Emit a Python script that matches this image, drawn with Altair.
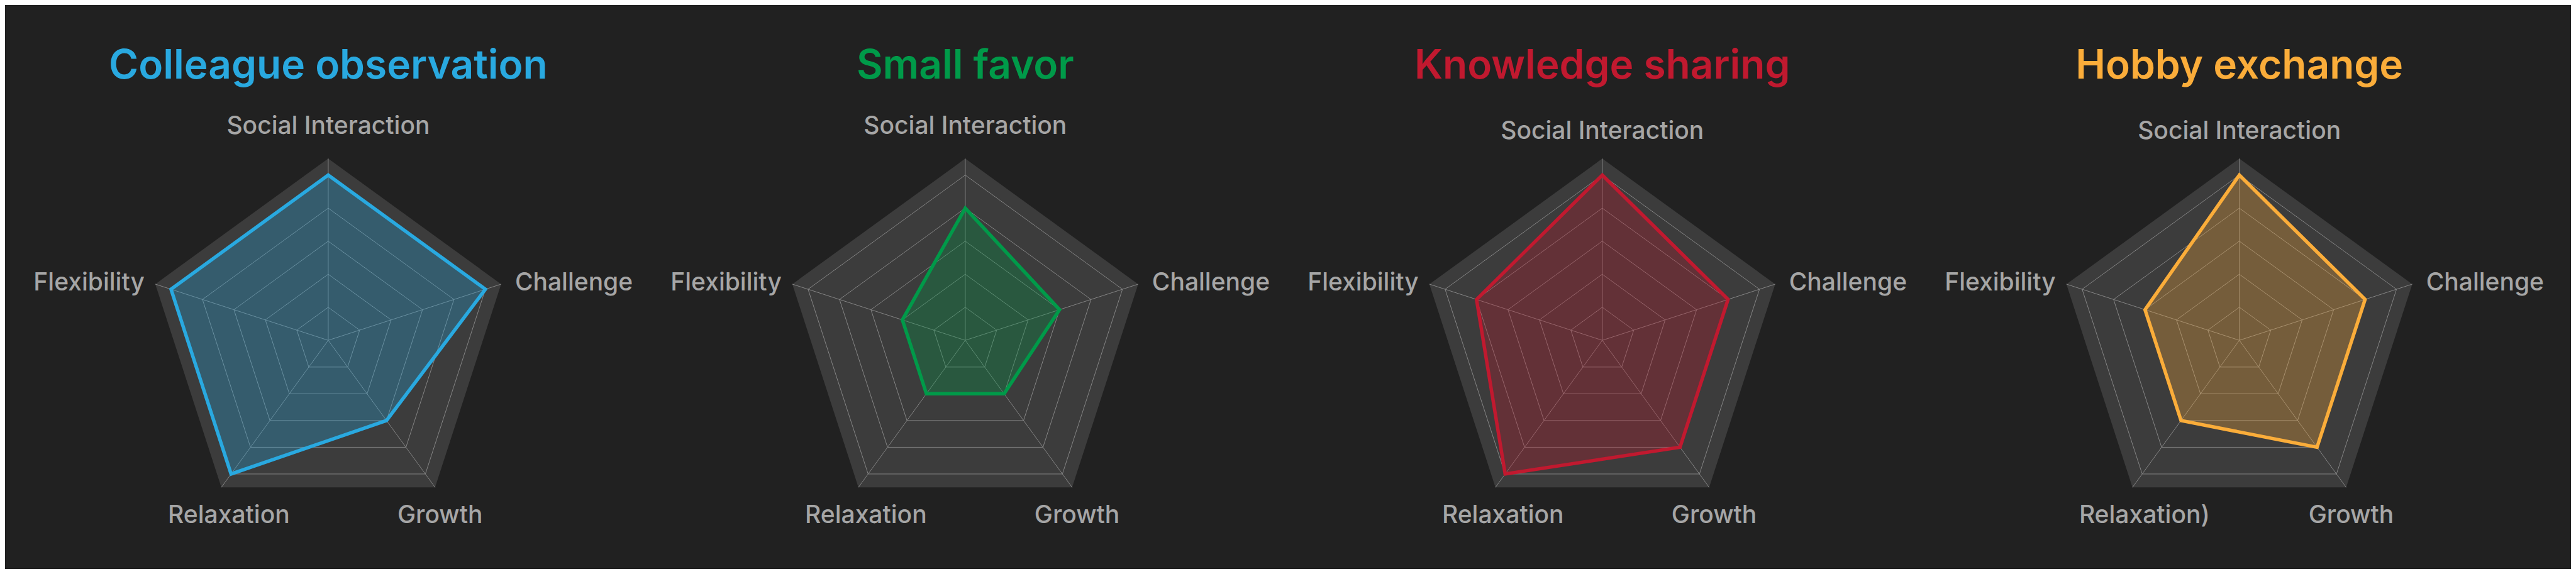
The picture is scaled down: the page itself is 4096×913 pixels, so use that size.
import math
import altair as alt
import pandas as pd

# ---------------- data ----------------
titles = ["Colleague observation", "Small favor", "Knowledge sharing", "Hobby exchange"]
colors = ["#29a9e0", "#009a49", "#c1192f", "#fbad3a"]
indicators = [
    ["Social Interaction", "Challenge", "Growth", "Relaxation", "Flexibility"],
    ["Social Interaction", "Challenge", "Growth", "Relaxation", "Flexibility"],
    ["Social Interaction", "Challenge", "Growth", "Relaxation", "Flexibility"],
    ["Social Interaction", "Challenge", "Growth", "Relaxation)", "Flexibility"],
]
colleague_observation = [5, 5, 3, 5, 5]
small_favor = [4, 3, 2, 2, 2]
knowledge_sharing = [5, 4, 4, 5, 4]
hobby_exchange = [5, 4, 4, 3, 3]
series = [colleague_observation, small_favor, knowledge_sharing, hobby_exchange]
ring_levels = [1, 2, 3, 4, 5]
axis_max = 5.5

# ---------------- layout (pixels) ----------------
W, H = 4080, 897
S = 0.532
U = 98.8 * S                 # pixels per rating unit
CX = [981 * S - 8 + i * 1904 * S for i in range(4)]
CY = 1017.5 * S - 8
BG = "#212121"
PANEL = "#3c3c3c"
GRID = "#858585"
LABEL = "#a6a6a6"
FONT = "Inter"

def ux(px):
    return px / U

def uy(py):
    return (H - py) / U

def vert(i, k, r):
    a = 2 * math.pi * k / 5
    return ux(CX[i]) + r * math.sin(a), uy(CY) + r * math.cos(a)

xs = alt.Scale(domain=[0, W / U], nice=False, zero=False)
ys = alt.Scale(domain=[0, H / U], nice=False, zero=False)

bg_rows, ring_rows, spoke_rows, data_rows = [], [], [], []
for i in range(4):
    for k in range(5):
        x, y = vert(i, k, axis_max)
        bg_rows.append({"chart": titles[i], "k": k, "x": x, "y": y})
        spoke_rows.append({"chart": titles[i], "x": ux(CX[i]), "y": uy(CY), "x2": x, "y2": y})
        for lv in ring_levels:
            rx, ry = vert(i, k, lv)
            ring_rows.append({"chart": titles[i], "level": lv, "k": k, "x": rx, "y": ry})
        dx, dy = vert(i, k, series[i][k])
        data_rows.append({"chart": titles[i], "k": k, "x": dx, "y": dy, "v": series[i][k]})

bg_df = pd.DataFrame(bg_rows)
ring_df = pd.DataFrame(ring_rows)
spoke_df = pd.DataFrame(spoke_rows)
data_df = pd.DataFrame(data_rows)

# label positions (offsets from centre, pixels)
lab_rows = []
for i in range(4):
    si_dy = -328 if i < 2 else -320.5
    offs = [
        (0, si_dy, "center"),
        (297, -79, "left"),
        (-254.8, 291, "left"),
        (110, 291, "left"),
        (-292, -79, "right"),
    ]
    order_idx = [0, 1, 3, 2, 4]  # SI, Challenge, Relaxation, Growth, Flexibility
    for (ox, oy, al), k in zip(offs, order_idx):
        lab_rows.append({"chart": titles[i], "text": indicators[i][k],
                         "x": ux(CX[i] + ox), "y": uy(CY + oy), "align": al})
lab_df = pd.DataFrame(lab_rows)

title_df = pd.DataFrame({"chart": titles,
                         "x": [ux(c) for c in CX],
                         "y": [uy(CY - 416.4)] * 4})

cscale = alt.Scale(domain=titles, range=colors)

X = lambda f="x": alt.X(f"{f}:Q", scale=xs, axis=None)
Y = lambda f="y": alt.Y(f"{f}:Q", scale=ys, axis=None)

layers = []

layers.append(alt.Chart(bg_df).mark_line(
    interpolate="linear-closed", fill=PANEL, strokeOpacity=0, fillOpacity=1
).encode(x=X(), y=Y(), order=alt.Order("k:Q"), detail="chart:N"))

layers.append(alt.Chart(ring_df).mark_line(
    interpolate="linear-closed", color=GRID, strokeWidth=1
).encode(x=X(), y=Y(), order=alt.Order("k:Q"), detail=["chart:N", "level:Q"]))

layers.append(alt.Chart(spoke_df).mark_rule(color=GRID, strokeWidth=1).encode(
    x=X(), y=Y(), x2="x2:Q", y2="y2:Q"))

for i in range(4):
    sub = data_df[data_df["chart"] == titles[i]]
    layers.append(alt.Chart(sub).mark_line(
        interpolate="linear-closed", fill=colors[i], fillOpacity=0.3, strokeOpacity=0
    ).encode(x=X(), y=Y(), order=alt.Order("k:Q")))
    layers.append(alt.Chart(sub).mark_line(
        interpolate="linear-closed", color=colors[i], strokeWidth=5.5, strokeJoin="miter"
    ).encode(x=X(), y=Y(), order=alt.Order("k:Q")))

for al in ["center", "left", "right"]:
    layers.append(alt.Chart(lab_df[lab_df["align"] == al]).mark_text(
        align=al, baseline="alphabetic", font=FONT, fontSize=39, fontWeight=500, color=LABEL
    ).encode(x=X(), y=Y(), text="text:N"))

layers.append(alt.Chart(title_df).mark_text(
    align="center", baseline="alphabetic", font=FONT, fontSize=64, fontWeight=600
).encode(x=X(), y=Y(), text="chart:N",
         color=alt.Color("chart:N", scale=cscale, legend=None)))

chart = alt.layer(*layers).properties(
    width=W, height=H, padding=0, background=BG
).configure_view(stroke=None)

chart.save("out.html", embed_options={"renderer": "svg", "actions": False})
